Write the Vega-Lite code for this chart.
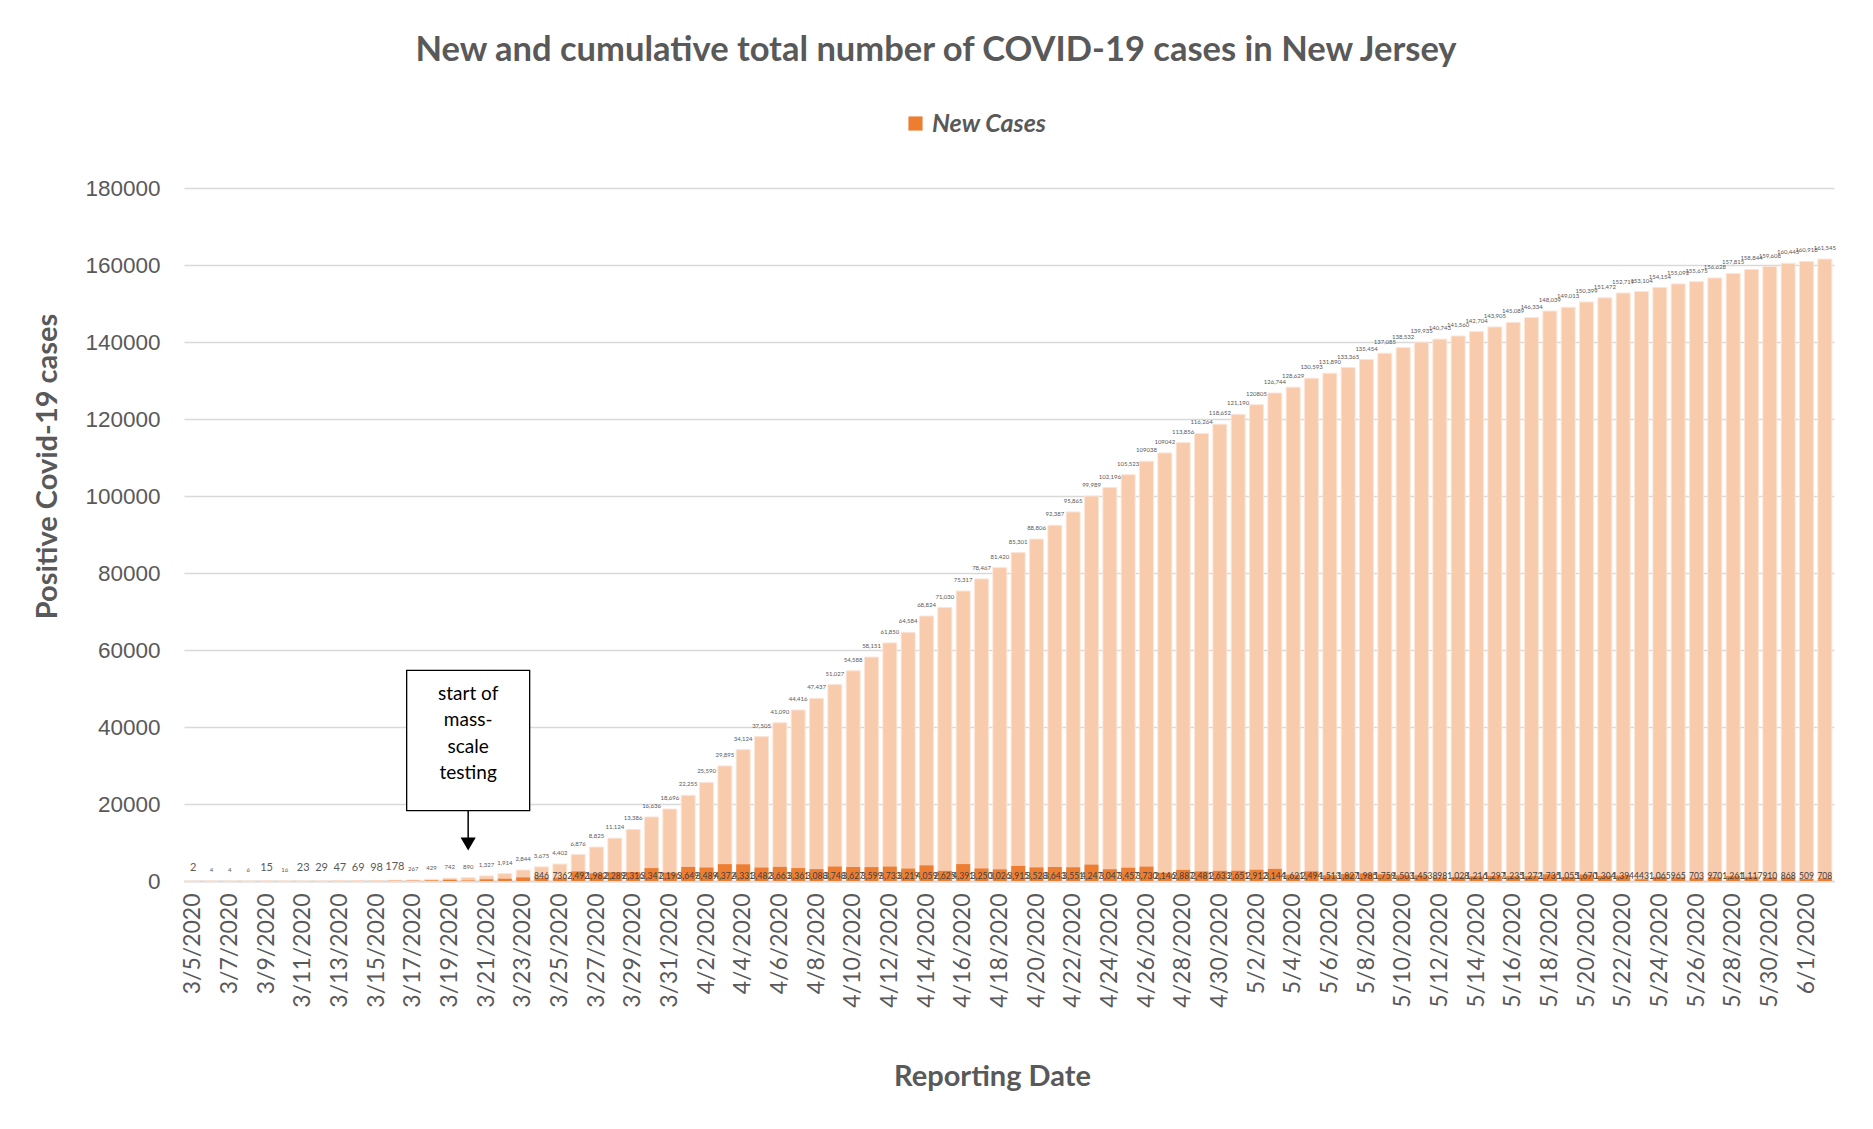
{
  "$schema": "https://vega.github.io/schema/vega-lite/v6.json",
  "width": 1650,
  "height": 693,
  "autosize": {"type": "none"},
  "padding": {"left": 184, "top": 188, "right": 39, "bottom": 248},
  "background": "white",
  "config": {
    "view": {"stroke": null},
    "font": "Lato",
    "axisY": {
      "titleFont": "Lato",
      "titleFontSize": 29,
      "titleFontWeight": "bold",
      "titleColor": "#595959",
      "titleAngle": 270,
      "titleAlign": "center",
      "titleBaseline": "middle",
      "labelFont": "Liberation Sans",
      "labelFontSize": 22.5,
      "labelColor": "#595959",
      "labelPadding": 24,
      "ticks": false,
      "domain": false,
      "gridColor": "#D9D9D9",
      "gridWidth": 1.5
    }
  },
  "title": {
    "text": "New and cumulative total number of COVID-19 cases in New Jersey",
    "anchor": "middle",
    "dx": -73,
    "offset": 9,
    "fontSize": 34.5,
    "font": "Lato",
    "fontWeight": "bold",
    "color": "#595959",
    "baseline": "bottom"
  },
  "data": {
    "values": [
      {"date": "3/5/2020", "cumulative": 2, "newCases": 2, "cumLabel": "2", "newLabel": null},
      {"date": "3/6/2020", "cumulative": 4, "newCases": 2, "cumLabel": "4", "newLabel": null},
      {"date": "3/7/2020", "cumulative": 4, "newCases": 0, "cumLabel": "4", "newLabel": null},
      {"date": "3/8/2020", "cumulative": 6, "newCases": 2, "cumLabel": "6", "newLabel": null},
      {"date": "3/9/2020", "cumulative": 15, "newCases": 9, "cumLabel": "15", "newLabel": null},
      {"date": "3/10/2020", "cumulative": 16, "newCases": 1, "cumLabel": "16", "newLabel": null},
      {"date": "3/11/2020", "cumulative": 23, "newCases": 7, "cumLabel": "23", "newLabel": null},
      {"date": "3/12/2020", "cumulative": 29, "newCases": 6, "cumLabel": "29", "newLabel": null},
      {"date": "3/13/2020", "cumulative": 47, "newCases": 18, "cumLabel": "47", "newLabel": null},
      {"date": "3/14/2020", "cumulative": 69, "newCases": 22, "cumLabel": "69", "newLabel": null},
      {"date": "3/15/2020", "cumulative": 98, "newCases": 29, "cumLabel": "98", "newLabel": null},
      {"date": "3/16/2020", "cumulative": 178, "newCases": 80, "cumLabel": "178", "newLabel": null},
      {"date": "3/17/2020", "cumulative": 267, "newCases": 89, "cumLabel": "267", "newLabel": null},
      {"date": "3/18/2020", "cumulative": 429, "newCases": 162, "cumLabel": "429", "newLabel": null},
      {"date": "3/19/2020", "cumulative": 742, "newCases": 313, "cumLabel": "742", "newLabel": null},
      {"date": "3/20/2020", "cumulative": 890, "newCases": 148, "cumLabel": "890", "newLabel": null},
      {"date": "3/21/2020", "cumulative": 1327, "newCases": 437, "cumLabel": "1,327", "newLabel": null},
      {"date": "3/22/2020", "cumulative": 1914, "newCases": 587, "cumLabel": "1,914", "newLabel": null},
      {"date": "3/23/2020", "cumulative": 2844, "newCases": 930, "cumLabel": "2,844", "newLabel": null},
      {"date": "3/24/2020", "cumulative": 3675, "newCases": 846, "cumLabel": "3,675", "newLabel": "846"},
      {"date": "3/25/2020", "cumulative": 4402, "newCases": 736, "cumLabel": "4,402", "newLabel": "736"},
      {"date": "3/26/2020", "cumulative": 6876, "newCases": 2492, "cumLabel": "6,876", "newLabel": "2,492"},
      {"date": "3/27/2020", "cumulative": 8825, "newCases": 1982, "cumLabel": "8,825", "newLabel": "1,982"},
      {"date": "3/28/2020", "cumulative": 11124, "newCases": 2289, "cumLabel": "11,124", "newLabel": "2,289"},
      {"date": "3/29/2020", "cumulative": 13386, "newCases": 2316, "cumLabel": "13,386", "newLabel": "2,316"},
      {"date": "3/30/2020", "cumulative": 16636, "newCases": 3347, "cumLabel": "16,636", "newLabel": "3,347"},
      {"date": "3/31/2020", "cumulative": 18696, "newCases": 2196, "cumLabel": "18,696", "newLabel": "2,196"},
      {"date": "4/1/2020", "cumulative": 22255, "newCases": 3649, "cumLabel": "22,255", "newLabel": "3,649"},
      {"date": "4/2/2020", "cumulative": 25590, "newCases": 3489, "cumLabel": "25,590", "newLabel": "3,489"},
      {"date": "4/3/2020", "cumulative": 29895, "newCases": 4372, "cumLabel": "29,895", "newLabel": "4,372"},
      {"date": "4/4/2020", "cumulative": 34124, "newCases": 4331, "cumLabel": "34,124", "newLabel": "4,331"},
      {"date": "4/5/2020", "cumulative": 37505, "newCases": 3482, "cumLabel": "37,505", "newLabel": "3,482"},
      {"date": "4/6/2020", "cumulative": 41090, "newCases": 3663, "cumLabel": "41,090", "newLabel": "3,663"},
      {"date": "4/7/2020", "cumulative": 44416, "newCases": 3361, "cumLabel": "44,416", "newLabel": "3,361"},
      {"date": "4/8/2020", "cumulative": 47437, "newCases": 3088, "cumLabel": "47,437", "newLabel": "3,088"},
      {"date": "4/9/2020", "cumulative": 51027, "newCases": 3748, "cumLabel": "51,027", "newLabel": "3,748"},
      {"date": "4/10/2020", "cumulative": 54588, "newCases": 3627, "cumLabel": "54,588", "newLabel": "3,627"},
      {"date": "4/11/2020", "cumulative": 58151, "newCases": 3599, "cumLabel": "58,151", "newLabel": "3,599"},
      {"date": "4/12/2020", "cumulative": 61850, "newCases": 3733, "cumLabel": "61,850", "newLabel": "3,733"},
      {"date": "4/13/2020", "cumulative": 64584, "newCases": 3219, "cumLabel": "64,584", "newLabel": "3,219"},
      {"date": "4/14/2020", "cumulative": 68824, "newCases": 4059, "cumLabel": "68,824", "newLabel": "4,059"},
      {"date": "4/15/2020", "cumulative": 71030, "newCases": 2625, "cumLabel": "71,030", "newLabel": "2,625"},
      {"date": "4/16/2020", "cumulative": 75317, "newCases": 4391, "cumLabel": "75,317", "newLabel": "4,391"},
      {"date": "4/17/2020", "cumulative": 78467, "newCases": 3250, "cumLabel": "78,467", "newLabel": "3,250"},
      {"date": "4/18/2020", "cumulative": 81420, "newCases": 3026, "cumLabel": "81,420", "newLabel": "3,026"},
      {"date": "4/19/2020", "cumulative": 85301, "newCases": 3915, "cumLabel": "85,301", "newLabel": "3,915"},
      {"date": "4/20/2020", "cumulative": 88806, "newCases": 3528, "cumLabel": "88,806", "newLabel": "3,528"},
      {"date": "4/21/2020", "cumulative": 92387, "newCases": 3643, "cumLabel": "92,387", "newLabel": "3,643"},
      {"date": "4/22/2020", "cumulative": 95865, "newCases": 3551, "cumLabel": "95,865", "newLabel": "3,551"},
      {"date": "4/23/2020", "cumulative": 99989, "newCases": 4247, "cumLabel": "99,989", "newLabel": "4,247"},
      {"date": "4/24/2020", "cumulative": 102196, "newCases": 3047, "cumLabel": "102,196", "newLabel": "3,047"},
      {"date": "4/25/2020", "cumulative": 105523, "newCases": 3457, "cumLabel": "105,523", "newLabel": "3,457"},
      {"date": "4/26/2020", "cumulative": 109038, "newCases": 3730, "cumLabel": "109038", "newLabel": "3,730"},
      {"date": "4/27/2020", "cumulative": 111188, "newCases": 2146, "cumLabel": "109042", "newLabel": "2,146"},
      {"date": "4/28/2020", "cumulative": 113856, "newCases": 2887, "cumLabel": "113,856", "newLabel": "2,887"},
      {"date": "4/29/2020", "cumulative": 116264, "newCases": 2481, "cumLabel": "116,264", "newLabel": "2,481"},
      {"date": "4/30/2020", "cumulative": 118652, "newCases": 2633, "cumLabel": "118,652", "newLabel": "2,633"},
      {"date": "5/1/2020", "cumulative": 121190, "newCases": 2651, "cumLabel": "121,190", "newLabel": "2,651"},
      {"date": "5/2/2020", "cumulative": 123717, "newCases": 2912, "cumLabel": "120805", "newLabel": "2,912"},
      {"date": "5/3/2020", "cumulative": 126744, "newCases": 3144, "cumLabel": "126,744", "newLabel": "3,144"},
      {"date": "5/4/2020", "cumulative": 128269, "newCases": 1621, "cumLabel": "128,629", "newLabel": "1,621"},
      {"date": "5/5/2020", "cumulative": 130593, "newCases": 2494, "cumLabel": "130,593", "newLabel": "2,494"},
      {"date": "5/6/2020", "cumulative": 131890, "newCases": 1513, "cumLabel": "131,890", "newLabel": "1,513"},
      {"date": "5/7/2020", "cumulative": 133365, "newCases": 1827, "cumLabel": "133,365", "newLabel": "1,827"},
      {"date": "5/8/2020", "cumulative": 135454, "newCases": 1985, "cumLabel": "135,454", "newLabel": "1,985"},
      {"date": "5/9/2020", "cumulative": 137085, "newCases": 1759, "cumLabel": "137,085", "newLabel": "1,759"},
      {"date": "5/10/2020", "cumulative": 138532, "newCases": 1503, "cumLabel": "138,532", "newLabel": "1,503"},
      {"date": "5/11/2020", "cumulative": 139935, "newCases": 1453, "cumLabel": "139,935", "newLabel": "1,453"},
      {"date": "5/12/2020", "cumulative": 140743, "newCases": 898, "cumLabel": "140,743", "newLabel": "898"},
      {"date": "5/13/2020", "cumulative": 141560, "newCases": 1028, "cumLabel": "141,560", "newLabel": "1,028"},
      {"date": "5/14/2020", "cumulative": 142704, "newCases": 1216, "cumLabel": "142,704", "newLabel": "1,216"},
      {"date": "5/15/2020", "cumulative": 143905, "newCases": 1297, "cumLabel": "143,905", "newLabel": "1,297"},
      {"date": "5/16/2020", "cumulative": 145089, "newCases": 1235, "cumLabel": "145,089", "newLabel": "1,235"},
      {"date": "5/17/2020", "cumulative": 146334, "newCases": 1272, "cumLabel": "146,334", "newLabel": "1,272"},
      {"date": "5/18/2020", "cumulative": 148039, "newCases": 1735, "cumLabel": "148,039", "newLabel": "1,735"},
      {"date": "5/19/2020", "cumulative": 149013, "newCases": 1055, "cumLabel": "149,013", "newLabel": "1,055"},
      {"date": "5/20/2020", "cumulative": 150399, "newCases": 1670, "cumLabel": "150,399", "newLabel": "1,670"},
      {"date": "5/21/2020", "cumulative": 151472, "newCases": 1304, "cumLabel": "151,472", "newLabel": "1,304"},
      {"date": "5/22/2020", "cumulative": 152719, "newCases": 1394, "cumLabel": "152,719", "newLabel": "1,394"},
      {"date": "5/23/2020", "cumulative": 153104, "newCases": 443, "cumLabel": "153,104", "newLabel": "443"},
      {"date": "5/24/2020", "cumulative": 154154, "newCases": 1065, "cumLabel": "154,154", "newLabel": "1,065"},
      {"date": "5/25/2020", "cumulative": 155092, "newCases": 965, "cumLabel": "155,092", "newLabel": "965"},
      {"date": "5/26/2020", "cumulative": 155675, "newCases": 703, "cumLabel": "155,675", "newLabel": "703"},
      {"date": "5/27/2020", "cumulative": 156628, "newCases": 970, "cumLabel": "156,628", "newLabel": "970"},
      {"date": "5/28/2020", "cumulative": 157815, "newCases": 1261, "cumLabel": "157,815", "newLabel": "1,261"},
      {"date": "5/29/2020", "cumulative": 158844, "newCases": 1117, "cumLabel": "158,844", "newLabel": "1,117"},
      {"date": "5/30/2020", "cumulative": 159608, "newCases": 910, "cumLabel": "159,608", "newLabel": "910"},
      {"date": "5/31/2020", "cumulative": 160445, "newCases": 868, "cumLabel": "160,445", "newLabel": "868"},
      {"date": "6/1/2020", "cumulative": 160918, "newCases": 509, "cumLabel": "160,918", "newLabel": "509"},
      {"date": "6/2/2020", "cumulative": 161545, "newCases": 708, "cumLabel": "161,545", "newLabel": "708"}
    ]
  },
  "encoding": {
    "x": {
      "field": "date",
      "type": "nominal",
      "sort": null,
      "scale": {"paddingInner": 0.24, "paddingOuter": 0.12},
      "axis": {
        "title": "Reporting Date",
        "titleFont": "Lato",
        "titleFontSize": 29,
        "titleFontWeight": "bold",
        "titleColor": "#595959",
        "titleX": 808,
        "titleY": 195,
        "titleBaseline": "middle",
        "titleAlign": "center",
        "labelAngle": 270,
        "labelFont": "Lato",
        "labelFontSize": 23,
        "labelColor": "#595959",
        "labelPadding": 12,
        "labelOverlap": false,
        "ticks": false,
        "domainColor": "#D9D9D9",
        "domainWidth": 2,
        "values": ["3/5/2020","3/7/2020","3/9/2020","3/11/2020","3/13/2020","3/15/2020","3/17/2020","3/19/2020","3/21/2020","3/23/2020","3/25/2020","3/27/2020","3/29/2020","3/31/2020","4/2/2020","4/4/2020","4/6/2020","4/8/2020","4/10/2020","4/12/2020","4/14/2020","4/16/2020","4/18/2020","4/20/2020","4/22/2020","4/24/2020","4/26/2020","4/28/2020","4/30/2020","5/2/2020","5/4/2020","5/6/2020","5/8/2020","5/10/2020","5/12/2020","5/14/2020","5/16/2020","5/18/2020","5/20/2020","5/22/2020","5/24/2020","5/26/2020","5/28/2020","5/30/2020","6/1/2020"]
      }
    }
  },
  "layer": [
    {
      "mark": {"type": "bar", "color": "#F8CBAD", "stroke": "#FCE4D6", "strokeWidth": 1},
      "encoding": {
        "y": {
          "field": "cumulative",
          "type": "quantitative",
          "scale": {"domain": [0, 180000], "nice": false},
          "axis": {"title": "Positive Covid-19 cases", "titleX": -137, "titleY": 278, "format": "d", "values": [0, 20000, 40000, 60000, 80000, 100000, 120000, 140000, 160000, 180000]}
        }
      }
    },
    {
      "mark": {"type": "bar"},
      "encoding": {
        "y": {"field": "newCases", "type": "quantitative", "axis": {"title": "Positive Covid-19 cases", "titleX": -137, "titleY": 278, "format": "d", "values": [0, 20000, 40000, 60000, 80000, 100000, 120000, 140000, 160000, 180000]}},
        "color": {
          "datum": "New Cases",
          "type": "nominal",
          "scale": {"range": ["#ED7D31"]},
          "legend": {
            "title": null,
            "orient": "none",
            "legendX": 719,
            "legendY": -77,
            "symbolType": "square",
            "symbolSize": 200,
            "labelFont": "Lato",
            "labelFontSize": 25,
            "labelFontStyle": "italic",
            "labelFontWeight": "bold",
            "labelColor": "#595959",
            "labelOffset": 4
          }
        }
      }
    },
    {
      "mark": {"type": "text", "baseline": "bottom", "dy": -8, "color": "#595959", "font": "Lato"},
      "encoding": {
        "y": {"field": "cumulative", "type": "quantitative", "axis": {"title": "Positive Covid-19 cases", "titleX": -137, "titleY": 278, "format": "d", "values": [0, 20000, 40000, 60000, 80000, 100000, 120000, 140000, 160000, 180000]}},
        "text": {"field": "cumLabel", "type": "nominal"},
        "size": {
          "condition": {"test": "indexof(['3/5/2020','3/9/2020','3/11/2020','3/12/2020','3/13/2020','3/14/2020','3/15/2020','3/16/2020'], datum.date) >= 0", "value": 11},
          "value": 6
        }
      }
    },
    {
      "transform": [{"filter": "isValid(datum.newLabel)"}],
      "mark": {"type": "text", "baseline": "middle", "dy": -5, "color": "#404040", "fontSize": 8.5, "font": "Lato"},
      "encoding": {
        "y": {"datum": 0, "type": "quantitative", "axis": {"title": "Positive Covid-19 cases", "titleX": -137, "titleY": 278, "format": "d", "values": [0, 20000, 40000, 60000, 80000, 100000, 120000, 140000, 160000, 180000]}},
        "text": {"field": "newLabel", "type": "nominal"}
      }
    },
    {
      "transform": [{"filter": "datum.date == '3/20/2020'"}],
      "mark": {"type": "point", "shape": "M-1,-1.14L1,-1.14L1,1.14L-1,1.14Z", "size": 15129, "filled": true, "fill": "white", "fillOpacity": 1, "stroke": "black", "strokeWidth": 1.3, "opacity": 1},
      "encoding": {"y": {"datum": 36500, "type": "quantitative", "axis": {"title": "Positive Covid-19 cases", "titleX": -137, "titleY": 278, "format": "d", "values": [0, 20000, 40000, 60000, 80000, 100000, 120000, 140000, 160000, 180000]}}}
    },
    {
      "transform": [{"filter": "datum.date == '3/20/2020'"}],
      "mark": {"type": "text", "lineBreak": "\n", "align": "center", "baseline": "middle", "fontSize": 19, "lineHeight": 26.5, "color": "black", "font": "Lato"},
      "encoding": {
        "y": {"datum": 48700, "type": "quantitative", "axis": {"title": "Positive Covid-19 cases", "titleX": -137, "titleY": 278, "format": "d", "values": [0, 20000, 40000, 60000, 80000, 100000, 120000, 140000, 160000, 180000]}},
        "text": {"value": "start of\nmass-\nscale\ntesting"}
      }
    },
    {
      "transform": [{"filter": "datum.date == '3/20/2020'"}],
      "mark": {"type": "rule", "color": "black", "strokeWidth": 1.5},
      "encoding": {
        "y": {"datum": 18300, "type": "quantitative", "axis": {"title": "Positive Covid-19 cases", "titleX": -137, "titleY": 278, "format": "d", "values": [0, 20000, 40000, 60000, 80000, 100000, 120000, 140000, 160000, 180000]}},
        "y2": {"datum": 11000}
      }
    },
    {
      "transform": [{"filter": "datum.date == '3/20/2020'"}],
      "mark": {"type": "point", "shape": "triangle-down", "size": 230, "filled": true, "color": "black", "opacity": 1},
      "encoding": {"y": {"datum": 9600, "type": "quantitative", "axis": {"title": "Positive Covid-19 cases", "titleX": -137, "titleY": 278, "format": "d", "values": [0, 20000, 40000, 60000, 80000, 100000, 120000, 140000, 160000, 180000]}}}
    }
  ]
}
